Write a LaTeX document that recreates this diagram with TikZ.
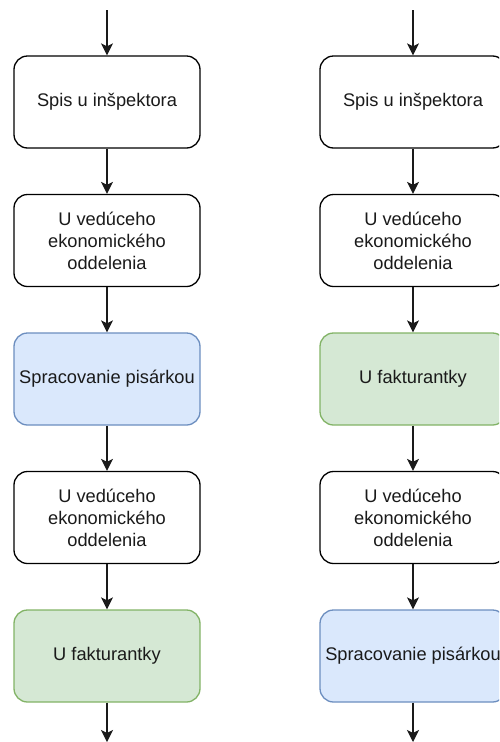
\documentclass[tikz,border=0pt]{standalone}
\usepackage{fontspec}
\setmainfont{Liberation Sans}
\usetikzlibrary{arrows.meta}
\definecolor{bluefill}{HTML}{DAE8FC}
\definecolor{bluestroke}{HTML}{6C8EBF}
\definecolor{greenfill}{HTML}{D5E8D4}
\definecolor{greenstroke}{HTML}{82B366}
\definecolor{ink}{HTML}{1A1A1A}
\tikzset{
  stepbox/.style={rectangle, rounded corners=13.5pt, draw=black, fill=white,
    line width=1.3pt, minimum width=186pt, minimum height=92pt, align=center,
    text=ink, font=\fontsize{18.25}{22}\selectfont, inner sep=0pt},
  bluebox/.style={stepbox, fill=bluefill, draw=bluestroke},
  greenbox/.style={stepbox, fill=greenfill, draw=greenstroke},
  flow/.style={line width=1.3pt, draw=ink,
    -{Stealth[length=12pt, width=12pt, inset=3pt]}}
}
\begin{document}
\begin{tikzpicture}[x=1pt, y=-1pt]
  \useasboundingbox (0,0) rectangle (499,742);
  \clip (0,0) rectangle (499,742);

  % left chain
  \coordinate (lin) at (107,10);
  \node[stepbox]  (l1) at (107,102)   {Spis u inšpektora};
  \node[stepbox]  (l2) at (107,240.5) {U vedúceho\\ekonomického\\oddelenia};
  \node[bluebox]  (l3) at (107,379)   {Spracovanie pisárkou};
  \node[stepbox]  (l4) at (107,517.5) {U vedúceho\\ekonomického\\oddelenia};
  \node[greenbox] (l5) at (107,656)   {U fakturantky};
  \coordinate (lout) at (107,742);

  % right chain
  \coordinate (rin) at (413,10);
  \node[stepbox]  (r1) at (413,102)   {Spis u inšpektora};
  \node[stepbox]  (r2) at (413,240.5) {U vedúceho\\ekonomického\\oddelenia};
  \node[greenbox] (r3) at (413,379)   {U fakturantky};
  \node[stepbox]  (r4) at (413,517.5) {U vedúceho\\ekonomického\\oddelenia};
  \node[bluebox]  (r5) at (413,656)   {Spracovanie pisárkou};
  \coordinate (rout) at (413,742);

  \foreach \c in {l,r} {
    \draw[flow] (\c in) -- (\c 1);
    \draw[flow] (\c 1) -- (\c 2);
    \draw[flow] (\c 2) -- (\c 3);
    \draw[flow] (\c 3) -- (\c 4);
    \draw[flow] (\c 4) -- (\c 5);
    \draw[flow] (\c 5) -- (\c out);
  }
\end{tikzpicture}
\end{document}
